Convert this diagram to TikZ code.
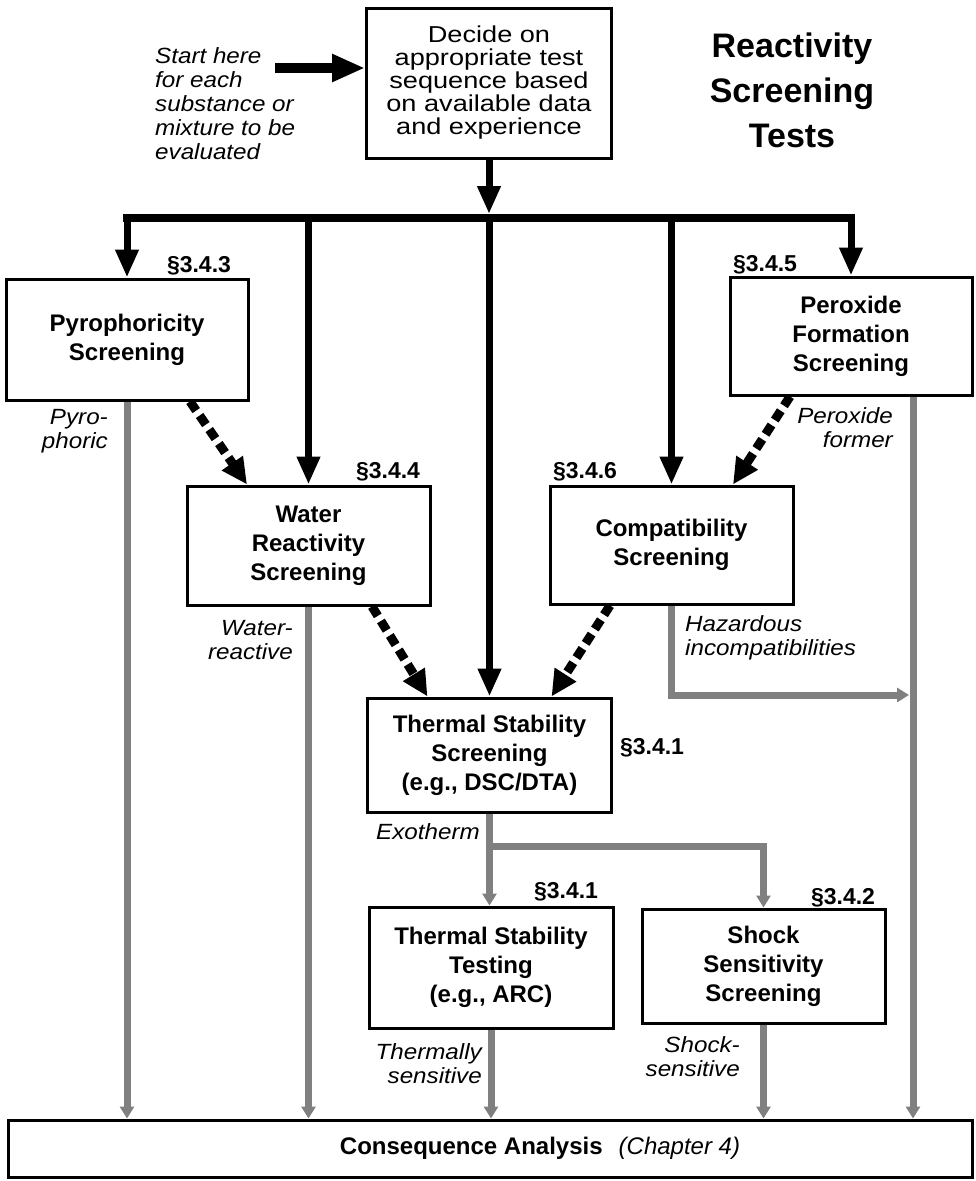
\documentclass[tikz,border=0pt]{standalone}
\usepackage{fontspec}
\setmainfont{Liberation Sans}
\newfontfamily\widefont[FakeStretch=1.18]{Liberation Sans}
\newfontfamily\labelfont[FakeStretch=1.1]{Liberation Sans}
\usetikzlibrary{arrows.meta,calc}
\begin{document}
\begin{tikzpicture}[x=1pt,y=-1pt,
  box/.style={draw, line width=3pt, align=center, inner sep=0pt,
    font=\fontsize{24}{29}\selectfont\bfseries},
  bline/.style={line width=7pt, -{Triangle[width=22pt,length=28pt]}},
  dline/.style={line width=9pt, dash pattern=on 11pt off 6pt,
    -{Triangle[width=24pt,length=26pt]}},
  gline/.style={draw=black!50, line width=7pt,
    -{Triangle[width=14pt,length=12pt]}},
  slab/.style={font=\fontsize{23}{23}\selectfont\bfseries, inner sep=0pt},
  ilab/.style={font=\labelfont\itshape\fontsize{22}{24}\selectfont, inner sep=0pt}
]
\fill[white] (0,0) rectangle (976,1181);
\useasboundingbox (0,0) rectangle (976,1181);

% boxes
\node[box, minimum width=245pt, minimum height=150pt,
  font=\widefont\fontsize{23}{23}\selectfont] (top) at (489,83)
  {Decide on\\appropriate test\\sequence based\\on available data\\and experience};
\node[box, minimum width=242pt, minimum height=121pt] (pyro) at (127,339.5) {Pyrophoricity\\Screening};
\node[box, minimum width=242pt, minimum height=118pt] (perox) at (851,336) {Peroxide\\Formation\\Screening};
\node[box, minimum width=243pt, minimum height=119pt] (water) at (308.5,545.5) {Water\\Reactivity\\Screening};
\node[box, minimum width=243pt, minimum height=118pt] (compat) at (671.5,545) {Compatibility\\Screening};
\node[box, minimum width=244pt, minimum height=114pt] (dsc) at (489.5,755) {Thermal Stability\\Screening\\(e.g., DSC/DTA)};
\node[box, minimum width=244pt, minimum height=121pt] (arc) at (491,967.5) {Thermal Stability\\Testing\\(e.g., ARC)};
\node[box, minimum width=243pt, minimum height=114pt] (shock) at (763.5,966) {Shock\\Sensitivity\\Screening};
\node[box, minimum width=964pt, minimum height=57pt] (cons) at (490,1148.5) {};
\node[font=\fontsize{24}{28}\selectfont, inner sep=0pt] (ctext) at (540,1148)
  {\textbf{Consequence Analysis}\hspace{16pt}\textit{(Chapter 4)}};

% title and start text
\node[font=\fontsize{34}{45}\selectfont\bfseries, align=center, inner sep=0pt] (title) at (792,90)
  {Reactivity\\Screening\\Tests};
\node[font=\labelfont\itshape\fontsize{22}{24}\selectfont, align=left, anchor=west, inner sep=0pt] (start) at (155,104)
  {Start here\\for each\\substance or\\mixture to be\\evaluated};

% start arrow
\coordinate (st) at (275,68);
\draw[line width=10pt, -{Triangle[width=26pt,length=33pt]}] (st) -- (st -| top.west);

% bus
\coordinate (bus) at (489,218);
\draw[bline] (top.south) -- ([yshift=4pt]bus);
\draw[line width=8pt, line cap=rect] (bus -| pyro.north) -- (bus -| perox.north);
\foreach \n in {pyro,water,dsc,compat,perox}
  \draw[bline] (bus -| \n.north) -- (\n.north);

% dashed arrows
\draw[dline] ([xshift=63pt]pyro.south) -- ([xshift=-61.5pt]water.north);
\draw[dline] ([xshift=-61pt]perox.south) -- ([xshift=61.5pt]compat.north);
\draw[dline] ([xshift=63.5pt]water.south) -- ([xshift=-62pt]dsc.north);
\draw[dline] ([xshift=-61.5pt]compat.south) -- ([xshift=62pt]dsc.north);

% gray outcome arrows
\draw[gline] (pyro.south) -- (pyro.south |- cons.north);
\draw[gline] (water.south) -- (water.south |- cons.north);
\draw[gline] (dsc.south) -- (dsc.south |- arc.north);
\coordinate (ex) at (dsc.south |- 0,846);
\draw[gline] ([xshift=-3.5pt]ex) -| (shock.north);
\draw[gline] (arc.south) -- (arc.south |- cons.north);
\draw[gline] (shock.south) -- (shock.south |- cons.north);
\coordinate (pxg) at ([xshift=62pt]perox.south);
\draw[gline] (pxg) -- (pxg |- cons.north);
\coordinate (hz) at (compat.south |- 0,695);
\draw[gline, shorten >=4pt] (compat.south) -- (hz) -- (hz -| pxg);

% section labels
\node[slab] (s343) at (199,266) {§3.4.3};
\node[slab] (s345) at (765,265) {§3.4.5};
\node[slab] (s344) at (388,472) {§3.4.4};
\node[slab] (s346) at (585,472) {§3.4.6};
\node[slab] (s341a) at (652,748) {§3.4.1};
\node[slab] (s341b) at (566,892) {§3.4.1};
\node[slab] (s342) at (843,898) {§3.4.2};

% outcome labels
\node[ilab, align=right, anchor=east] (lpyro) at (108,431) {Pyro-\\phoric};
\node[ilab, align=right, anchor=east] (lwater) at (293,640) {Water-\\reactive};
\node[ilab, align=right, anchor=east] (lperox) at (893,428) {Peroxide\\former};
\node[ilab, align=left, anchor=west] (lhaz) at (685,638) {Hazardous\\incompatibilities};
\node[ilab, anchor=east] (lexo) at (480,832) {Exotherm};
\node[ilab, align=right, anchor=east] (lth) at (482,1064) {Thermally\\sensitive};
\node[ilab, align=right, anchor=east] (lsh) at (740,1057) {Shock-\\sensitive};
\end{tikzpicture}
\end{document}
